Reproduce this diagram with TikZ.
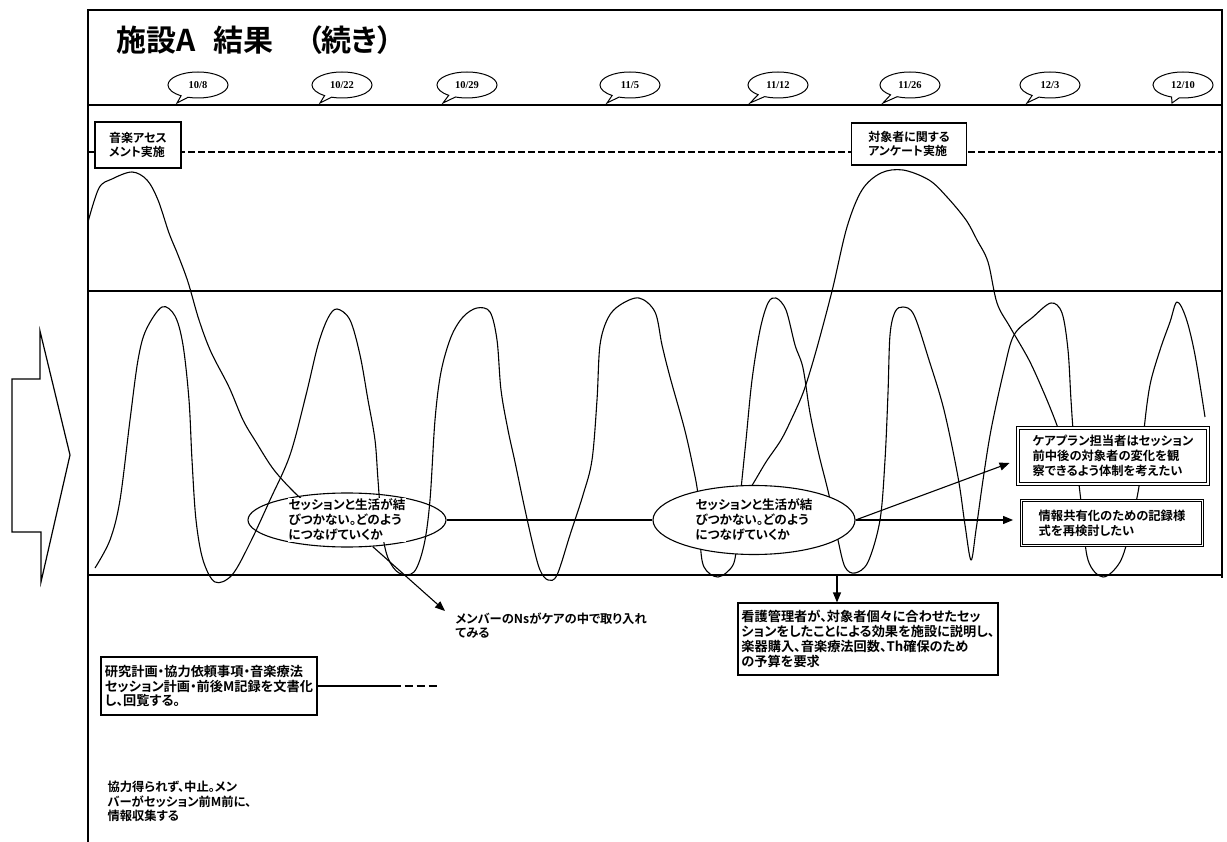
\documentclass[tikz,border=0pt]{standalone}
\usepackage{fontspec}
\setmainfont{Noto Sans CJK JP}[BoldFont={Noto Sans CJK JP Bold},RawFeature=+palt]
\newfontfamily\datefont{Liberation Serif}
\usetikzlibrary{positioning,calc,shapes.geometric,shapes.callouts,arrows.meta}
\tikzset{
  rule/.style={line width=1.4pt},
  wave/.style={line width=1.1pt,line join=round},
  box/.style={draw,line width=1.1pt,fill=white,align=left,font=\fontsize{12}{14.5}\selectfont\bfseries},
  dbox/.style={box,double,double distance=1.6pt,line width=0.9pt,font=\fontsize{12.3}{15}\selectfont\bfseries},
  oval/.style={ellipse,draw,line width=1.1pt,minimum width=200pt,minimum height=54pt},
  note/.style={align=left,font=\fontsize{12.3}{14.5}\selectfont\bfseries},
  ovaltext/.style={note,font=\fontsize{12.6}{15}\selectfont\bfseries},
  datebub/.style={ellipse callout,draw,line width=1pt,minimum width=60pt,minimum height=26pt,inner sep=1pt,font=\datefont\fontsize{10.5}{10.5}\selectfont\bfseries},
  arr/.style={-{Triangle[length=10pt,width=8pt]},line width=1.1pt}
}
\begin{document}
\begin{tikzpicture}[x=1pt,y=-1pt]
\useasboundingbox (0,0) rectangle (1227,842);
% frame and rows
\draw[rule] (88,842) -- (88,10) -- (1222,10) -- (1222,578);
\foreach \y in {105,291,575} \draw[rule] (88,\y) -- (1222,\y);
\draw[rule,dash pattern=on 7pt off 3pt] (88,152) -- (1222,152);
\draw[line width=1.2pt] (12,379) -- (40,379) -- (40,331) -- (70,455) -- (41,582) -- (41,532) -- (12,532) -- cycle;
\node[anchor=west,font=\fontsize{30}{30}\selectfont\bfseries] (title) at (113,40) {施設A\hspace{.6em}結果\hspace{1.1em}（続き）};
\foreach \x/\p/\d [count=\i] in {198/177/{10/8},342/320/{10/22},467/443/{10/29},630/607/{11/5},778/750/{11/12},910/883/{11/26},1050/1027/{12/3},1183/1172/{12/10}}
  \node[datebub,callout absolute pointer={(\p,103)}] (d\i) at (\x,85) {\d};
% curves
\draw[wave] plot[smooth,tension=.55] coordinates {(88,222) (99,188) (112,179) (132,172) (147,180) (158,200) (169,233) (178,255) (188,282) (199,320) (211,352) (229,387) (243,420) (256,442) (274,470) (296,494) (310,505)};
\draw[wave] plot[smooth,tension=.55] coordinates {(95,568) (110,540) (120,500) (130,420) (138,360) (146,330) (162,307) (175,316) (183,345) (189,400) (192,460) (196,520) (203,560) (215,582) (232,575) (250,543) (270,500) (290,455) (306,395) (318,345) (328,318) (337,309) (350,320) (360,355) (368,400) (375,440) (378,480) (382,530) (388,558) (399,573) (414,572) (424,545) (430,500) (435,420) (441,372) (451,337) (463,317) (477,308) (490,312) (497,340) (501,390) (508,430) (515,462) (524,505) (533,545) (540,570) (548,580) (557,575) (570,535) (583,495) (592,460) (597,400) (600,345) (608,318) (620,305) (639,298) (655,312) (662,345) (670,377) (684,427) (692,462) (698,495) (700,540) (704,567) (718,577) (733,565) (737,540) (740,500) (746,440) (752,380) (760,330) (768,303) (776,298) (786,310) (795,345) (803,368) (810,413) (819,455) (829,495) (838,540) (845,567) (855,573) (868,562) (880,520) (885,460) (888,393) (890,335) (895,312) (903,307) (914,315) (929,360) (944,410) (958,477) (965,525) (971,560) (976,530) (983,480) (991,430) (1004,370) (1014,335) (1033,317) (1051,303) (1062,313) (1068,350) (1071,400) (1074,440) (1082,510) (1088,560) (1103,577) (1120,562) (1130,530) (1140,480) (1144,430) (1150,385) (1160,350) (1170,322) (1177,302) (1186,318) (1195,355) (1205,417)};
\draw[wave] plot[smooth,tension=.55] coordinates {(736,508) (751,487) (766,462) (781,440) (792,418) (803,393) (812,365) (821,333) (833,287) (847,227) (862,190) (881,173) (903,170) (929,180) (947,197) (966,220) (977,240) (988,262) (997,303) (1010,327) (1029,360) (1044,393) (1055,420) (1062,440)};
% boxes and notes
\node[box,minimum width=86pt,minimum height=46pt] (music) at (138,145) {音楽アセス\\メント実施};
\node[box,minimum width=115pt,minimum height=42pt] (survey) at (909,144) {対象者に関する\\アンケート実施};
\node[oval,minimum width=198pt] (ellA) at (347,520) {};
\node[ovaltext,fill=white,inner sep=1pt] (ellAtxt) at (ellA) {セッションと生活が結\\びつかない。どのよう\\につなげていくか};
\node[oval,fill=white,minimum width=202pt,ovaltext] (ellB) at (754,520) {セッションと生活が結\\びつかない。どのよう\\につなげていくか};
\node[dbox,minimum width=190pt,minimum height=56pt] (careplan) at (1113,456) {ケアプラン担当者はセッション\\前中後の対象者の変化を観\\察できるよう体制を考えたい};
\node[dbox,minimum width=181pt,minimum height=45pt] (kyouyu) at (1112,523) {情報共有化のための記録様\\式を再検討したい};
\node[box,minimum width=260pt,minimum height=72pt,font=\fontsize{13.2}{15}\selectfont\bfseries] (kanri) at (868,639) {看護管理者が、対象者個々に合わせたセッ\\ションをしたことによる効果を施設に説明し、\\楽器購入、音楽療法回数、Th確保のため\\の予算を要求};
\node[box,minimum width=216pt,minimum height=58pt,font=\fontsize{13.2}{14.5}\selectfont\bfseries] (keikaku) at (209,686) {研究計画・協力依頼事項・音楽療法\\セッション計画・前後M記録を文書化\\し、回覧する。};
\node[note,anchor=north west] (ns) at (452,609) {メンバーのNsがケアの中で取り入れ\\てみる};
\node[note,anchor=north west] (chushi) at (104,778) {協力得られず、中止。メン\\バーがセッション前M前に、\\情報収集する};
% connectors
\draw[wave] (ellA.east) -- (ellB.west);
\draw[arr] (ellB.east) -- ($(careplan.west)+(-8,7)$);
\draw[arr] (ellB.east) -- ($(ellB.east -| kyouyu.west)+(-8,0)$);
\draw[arr] (ellA.-46) -- ($(ns.north west)+(-7,2)$);
\coordinate (drop) at (837,575);
\draw[arr] (drop) -- (drop |- kanri.north);
\path (keikaku.east) ++(75,0) coordinate (ksplit) ++(46,0) coordinate (kend);
\draw[wave] (keikaku.east) -- (ksplit);
\draw[wave,dash pattern=on 8pt off 4pt] (ksplit) -- (kend);
\end{tikzpicture}
\end{document}
